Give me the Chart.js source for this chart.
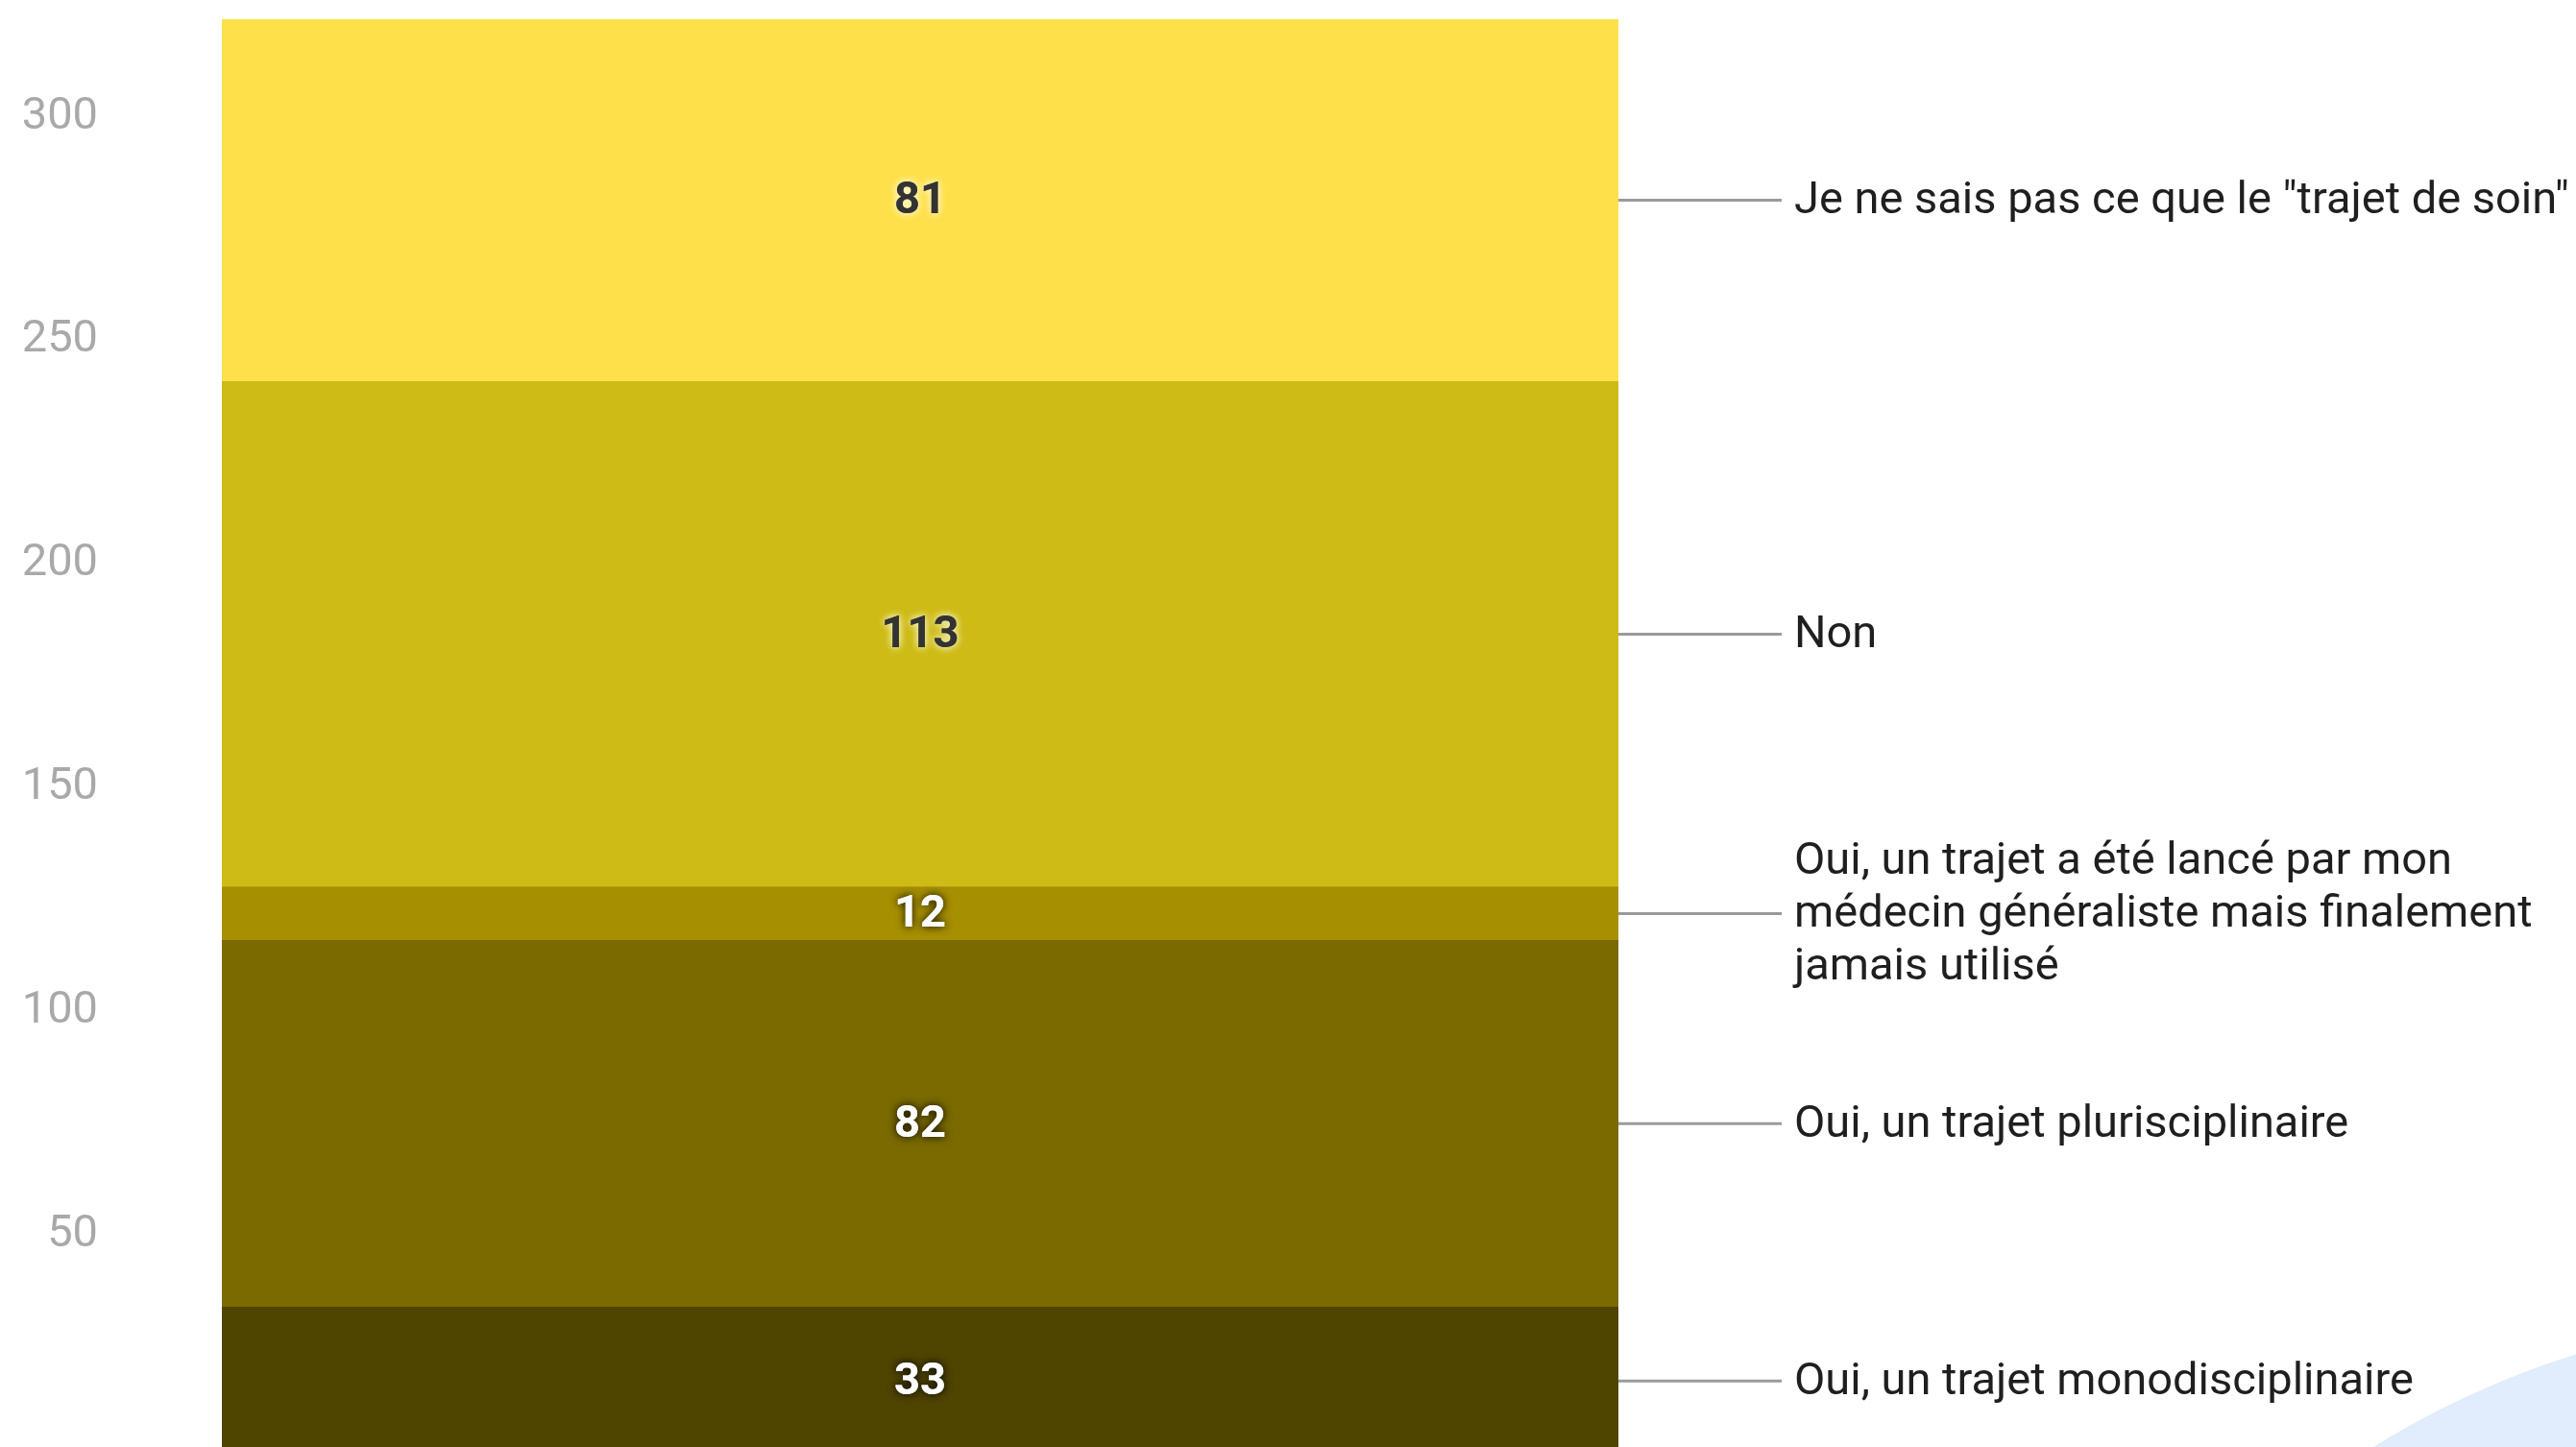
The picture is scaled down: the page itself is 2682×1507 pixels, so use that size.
<!DOCTYPE html>
<html lang="fr">
<head>
<meta charset="utf-8">
<title>Trajet de soin</title>
<script src="https://cdn.jsdelivr.net/npm/chart.js@4"></script>
<style>
  html, body { margin: 0; padding: 0; background: #fff; overflow: hidden; }
  #wrap { position: relative; width: 2682px; height: 1507px; overflow: hidden; }
  #blob {
    position: absolute; left: 2044px; top: 1370px;
    width: 1812px; height: 1812px; border-radius: 50%;
    background: #e1ecfc; z-index: 0;
  }
  #chart { position: absolute; left: 0; top: 0; z-index: 1; }
</style>
</head>
<body>
<div id="wrap">
  <div id="blob"></div>
  <canvas id="chart" width="2682" height="1540"></canvas>
</div>
<script>
// one stacked column, bottom segment first
const categories = [""];
const answers = [
  ["Oui, un trajet monodisciplinaire"],
  ["Oui, un trajet plurisciplinaire"],
  ["Oui, un trajet a été lancé par mon", "médecin généraliste mais finalement", "jamais utilisé"],
  ["Non"],
  ["Je ne sais pas ce que le \"trajet de soin\""]
];
const counts = [33, 82, 12, 113, 81];
const yTicks = [50, 100, 150, 200, 250, 300];
const yMax = 321;

const segmentColors = ["#4f4400", "#7a6a00", "#a68f00", "#cebb16", "#fee04b"];
const darkLabel = [false, false, false, true, true];

const FONT = "Roboto, 'Noto Sans', sans-serif";

// value labels inside the segments + leader lines and answers on the right
const sideLabels = {
  id: "sideLabels",
  afterDatasetsDraw(chart) {
    const ctx = chart.ctx;
    const area = chart.chartArea;
    chart.data.datasets.forEach((ds, i) => {
      const bar = chart.getDatasetMeta(i).data[0];
      if (!bar) return;
      const mid = (bar.y + bar.base) / 2;

      // value
      ctx.save();
      ctx.font = `bold 47px ${FONT}`;
      ctx.textAlign = "center";
      ctx.textBaseline = "middle";
      if (darkLabel[i]) {
        ctx.fillStyle = "#333333";
        ctx.shadowColor = "rgba(255,255,230,0.7)";
      } else {
        ctx.fillStyle = "#ffffff";
        ctx.shadowColor = "rgba(0,0,0,0.55)";
      }
      ctx.shadowBlur = 8;
      ctx.fillText(String(ds.data[0]), bar.x, mid + 2);
      ctx.fillText(String(ds.data[0]), bar.x, mid + 2);
      ctx.restore();

      // leader line
      ctx.save();
      ctx.strokeStyle = "#9a9a9a";
      ctx.lineWidth = 3;
      ctx.beginPath();
      ctx.moveTo(area.right, mid);
      ctx.lineTo(area.right + 170, mid);
      ctx.stroke();

      // answer text
      const lines = answers[i];
      const lh = 55;
      ctx.font = `47px ${FONT}`;
      ctx.fillStyle = "#1f1f1f";
      ctx.textAlign = "left";
      ctx.textBaseline = "middle";
      const y0 = mid - (lines.length - 1) * lh / 2;
      lines.forEach((t, k) => ctx.fillText(t, area.right + 183, y0 + k * lh + 2));
      ctx.restore();
    });
  }
};

const ctx = document.getElementById("chart").getContext("2d");

new Chart(ctx, {
  type: "bar",
  data: {
    labels: categories,
    datasets: counts.map((v, i) => ({
      label: answers[i].join(" "),
      data: [v],
      backgroundColor: segmentColors[i],
      borderWidth: 0,
      barPercentage: 1,
      categoryPercentage: 1
    }))
  },
  options: {
    responsive: false,
    animation: false,
    devicePixelRatio: 1,
    layout: {
      autoPadding: false,
      padding: { top: 20, bottom: 25, left: 0, right: 997 }
    },
    plugins: {
      legend: { display: false },
      tooltip: { enabled: false },
      title: { display: false }
    },
    scales: {
      x: {
        stacked: true,
        display: false
      },
      y: {
        stacked: true,
        min: 0,
        max: yMax,
        grid: { display: false, drawTicks: false },
        border: { display: false },
        afterBuildTicks: scale => {
          scale.ticks = yTicks.map(value => ({ value }));
        },
        afterFit: scale => {
          scale.width = 231;
          scale.paddingTop = 0;
          scale.paddingBottom = 0;
        },
        ticks: {
          stepSize: 50,
          padding: 129,
          labelOffset: 4,
          color: "#a9a9a9",
          font: { family: FONT, size: 47 }
        }
      }
    }
  },
  plugins: [sideLabels]
});
</script>
</body>
</html>
